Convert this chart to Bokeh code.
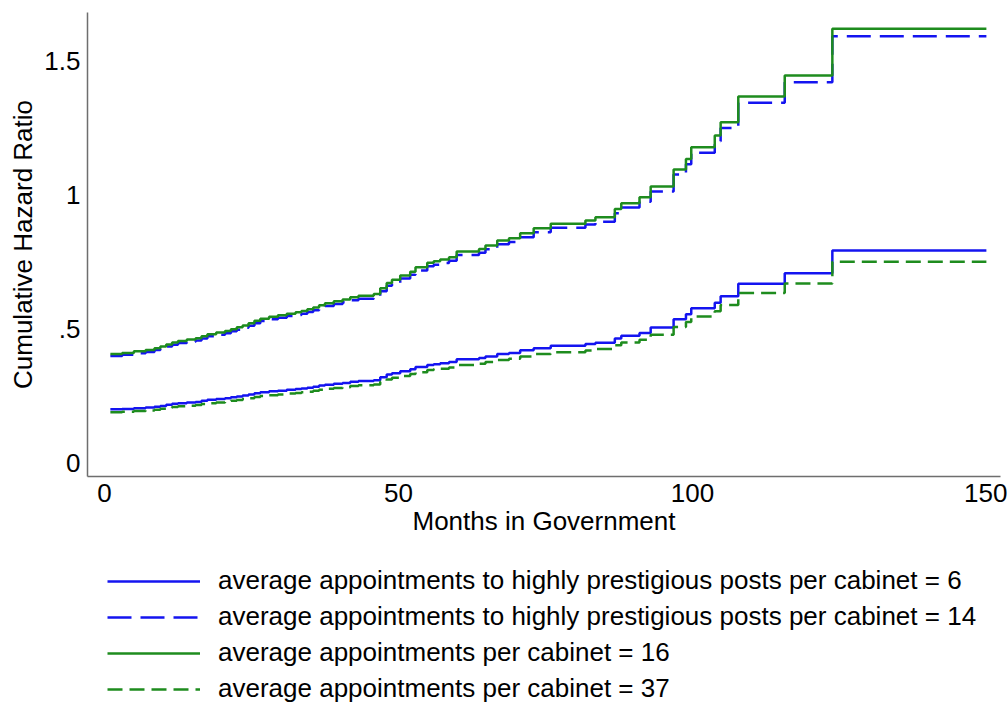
from bokeh.plotting import figure
from bokeh.layouts import column
from bokeh.models import Range1d, FixedTicker, Legend, LegendItem
from bokeh.embed import file_html
from bokeh.resources import INLINE

# Event times (months in government); last value closes the final step
months = [1, 3, 5, 7, 8.5, 9.5, 10.5, 11.5, 12.5, 14, 15.5, 16.5, 17.5, 19, 20.5,
          21.5, 22.5, 23.5, 24.5, 25.5, 26.5, 28, 29.5, 31, 32.5, 33.5, 34.5, 35.5,
          36.5, 37.5, 39, 40.5, 41.8, 43.2, 45.8, 46.9, 48.0, 48.9, 50.3, 52.0, 52.9,
          54.9, 56.0, 57.1, 58.6, 59.9, 63.7, 64.8, 66.8, 68.8, 70.7, 73.0, 75.9,
          81.8, 83.5, 86.8, 87.9, 91.0, 92.9, 96.8, 98.9, 99.8, 103.8, 104.8, 107.8,
          115.7, 123.8, 150]

# average appointments per cabinet = 16
appt16 = [0.406, 0.410, 0.416, 0.421, 0.428, 0.434, 0.442, 0.449, 0.455, 0.460, 0.465,
          0.472, 0.480, 0.486, 0.492, 0.499, 0.506, 0.513, 0.521, 0.530, 0.538, 0.545,
          0.551, 0.557, 0.562, 0.567, 0.573, 0.580, 0.588, 0.596, 0.603, 0.610, 0.618,
          0.624, 0.630, 0.652, 0.672, 0.684, 0.700, 0.714, 0.730, 0.747, 0.753, 0.759,
          0.768, 0.789, 0.799, 0.812, 0.830, 0.839, 0.858, 0.876, 0.893, 0.905, 0.917,
          0.948, 0.970, 0.992, 1.032, 1.096, 1.135, 1.179, 1.223, 1.273, 1.369, 1.447,
          1.622, 1.622]

# average appointments to highly prestigious posts per cabinet = 14
prest14 = [0.399, 0.403, 0.409, 0.414, 0.421, 0.427, 0.434, 0.441, 0.447, 0.452, 0.457,
           0.464, 0.472, 0.478, 0.484, 0.491, 0.497, 0.504, 0.512, 0.521, 0.529, 0.536,
           0.542, 0.548, 0.552, 0.557, 0.563, 0.570, 0.578, 0.586, 0.593, 0.600, 0.607,
           0.613, 0.619, 0.641, 0.661, 0.672, 0.688, 0.702, 0.718, 0.734, 0.740, 0.746,
           0.755, 0.776, 0.785, 0.798, 0.816, 0.825, 0.843, 0.861, 0.878, 0.890, 0.901,
           0.932, 0.954, 0.975, 1.014, 1.077, 1.116, 1.159, 1.202, 1.251, 1.346, 1.422,
           1.594, 1.594]

# average appointments to highly prestigious posts per cabinet = 6
prest6 = [0.199, 0.200, 0.203, 0.206, 0.209, 0.212, 0.216, 0.220, 0.222, 0.225, 0.227,
          0.231, 0.235, 0.238, 0.241, 0.244, 0.247, 0.251, 0.255, 0.259, 0.263, 0.267,
          0.269, 0.272, 0.275, 0.277, 0.280, 0.284, 0.288, 0.291, 0.295, 0.298, 0.302,
          0.305, 0.308, 0.319, 0.329, 0.334, 0.342, 0.349, 0.357, 0.365, 0.368, 0.371,
          0.376, 0.386, 0.391, 0.397, 0.406, 0.410, 0.420, 0.428, 0.437, 0.443, 0.448,
          0.464, 0.474, 0.485, 0.505, 0.536, 0.555, 0.577, 0.598, 0.622, 0.669, 0.708,
          0.793, 0.793]

# average appointments per cabinet = 37
appt37 = [0.188, 0.190, 0.193, 0.195, 0.198, 0.201, 0.205, 0.208, 0.211, 0.213, 0.215,
          0.219, 0.222, 0.225, 0.228, 0.231, 0.234, 0.238, 0.241, 0.245, 0.249, 0.252,
          0.255, 0.258, 0.260, 0.263, 0.265, 0.269, 0.272, 0.276, 0.279, 0.282, 0.286,
          0.289, 0.292, 0.302, 0.311, 0.317, 0.324, 0.331, 0.338, 0.346, 0.349, 0.351,
          0.356, 0.365, 0.370, 0.376, 0.384, 0.388, 0.397, 0.406, 0.413, 0.419, 0.425,
          0.439, 0.449, 0.459, 0.478, 0.507, 0.526, 0.546, 0.566, 0.589, 0.634, 0.670,
          0.751, 0.751]

labels = ["average appointments to highly prestigious posts per cabinet = 6",
          "average appointments to highly prestigious posts per cabinet = 14",
          "average appointments per cabinet = 16",
          "average appointments per cabinet = 37"]

x_ticks = [0, 50, 100, 150]
y_ticks = [0, 0.5, 1, 1.5]
y_tick_labels = {0: "0", 0.5: ".5", 1: "1", 1.5: "1.5"}

BLUE = "#1414f0"
GREEN = "#1e8c1e"
FONT = "Liberation Sans"
series_list = [prest6, prest14, appt16, appt37]
styles = [dict(line_color=BLUE, line_width=2.5),
          dict(line_color=BLUE, line_width=2.5, line_dash="24 9"),
          dict(line_color=GREEN, line_width=2.5),
          dict(line_color=GREEN, line_width=2.5, line_dash="15 7")]

p = figure(width=1007, height=545, output_backend="svg", toolbar_location=None,
           x_range=Range1d(-2.89, 152.4), y_range=Range1d(-0.052, 1.683),
           min_border_left=87, min_border_top=12, min_border_right=7,
           min_border_bottom=69)
p.grid.visible = False
p.outline_line_color = None
p.background_fill_color = "white"

for series, st in zip(series_list, styles):
    p.step(months, series, mode="after", **st)

for ax in (p.xaxis[0], p.yaxis[0]):
    ax.axis_line_color = "#6e6e6e"
    ax.axis_line_width = 1.5
    ax.major_tick_line_color = None
    ax.minor_tick_line_color = None
    ax.major_tick_out = 0
    ax.major_tick_in = 0
    ax.major_label_text_font = FONT
    ax.major_label_text_font_size = "26px"
    ax.major_label_text_color = "black"
    ax.axis_label_text_font = FONT
    ax.axis_label_text_font_size = "26px"
    ax.axis_label_text_font_style = "normal"
    ax.axis_label_text_color = "black"

p.xaxis.ticker = FixedTicker(ticks=x_ticks)
p.yaxis.ticker = FixedTicker(ticks=y_ticks)
p.yaxis.major_label_overrides = y_tick_labels
p.xaxis.axis_label = "Months in Government"
p.yaxis.axis_label = "Cumulative Hazard Ratio"
p.xaxis.major_label_standoff = 7
p.xaxis.axis_label_standoff = 1
p.yaxis.major_label_standoff = 7
p.yaxis.axis_label_standoff = 3

# legend panel underneath the plot (its series sit outside its visible range)
lg = figure(width=1007, height=159, output_backend="svg", toolbar_location=None,
            x_axis_type=None, y_axis_type=None,
            x_range=Range1d(-20, -10), y_range=Range1d(0, 1),
            min_border_left=87, min_border_top=0, min_border_right=7,
            min_border_bottom=0)
lg.grid.visible = False
lg.outline_line_color = None
items = []
for lab, series, st in zip(labels, series_list, styles):
    r = lg.line(months, series, **st)
    items.append(LegendItem(label=lab, renderers=[r]))

legend = Legend(items=items, location="top_left", orientation="vertical",
                border_line_color=None, background_fill_alpha=0,
                glyph_width=93, glyph_height=30, label_height=30, spacing=5,
                label_standoff=18, label_text_font=FONT,
                label_text_font_size="26px", label_text_color="black",
                margin=20, padding=0)
lg.add_layout(legend, "center")

layout = column(p, lg, spacing=0)
open("out.html", "w").write(file_html(layout, INLINE))
